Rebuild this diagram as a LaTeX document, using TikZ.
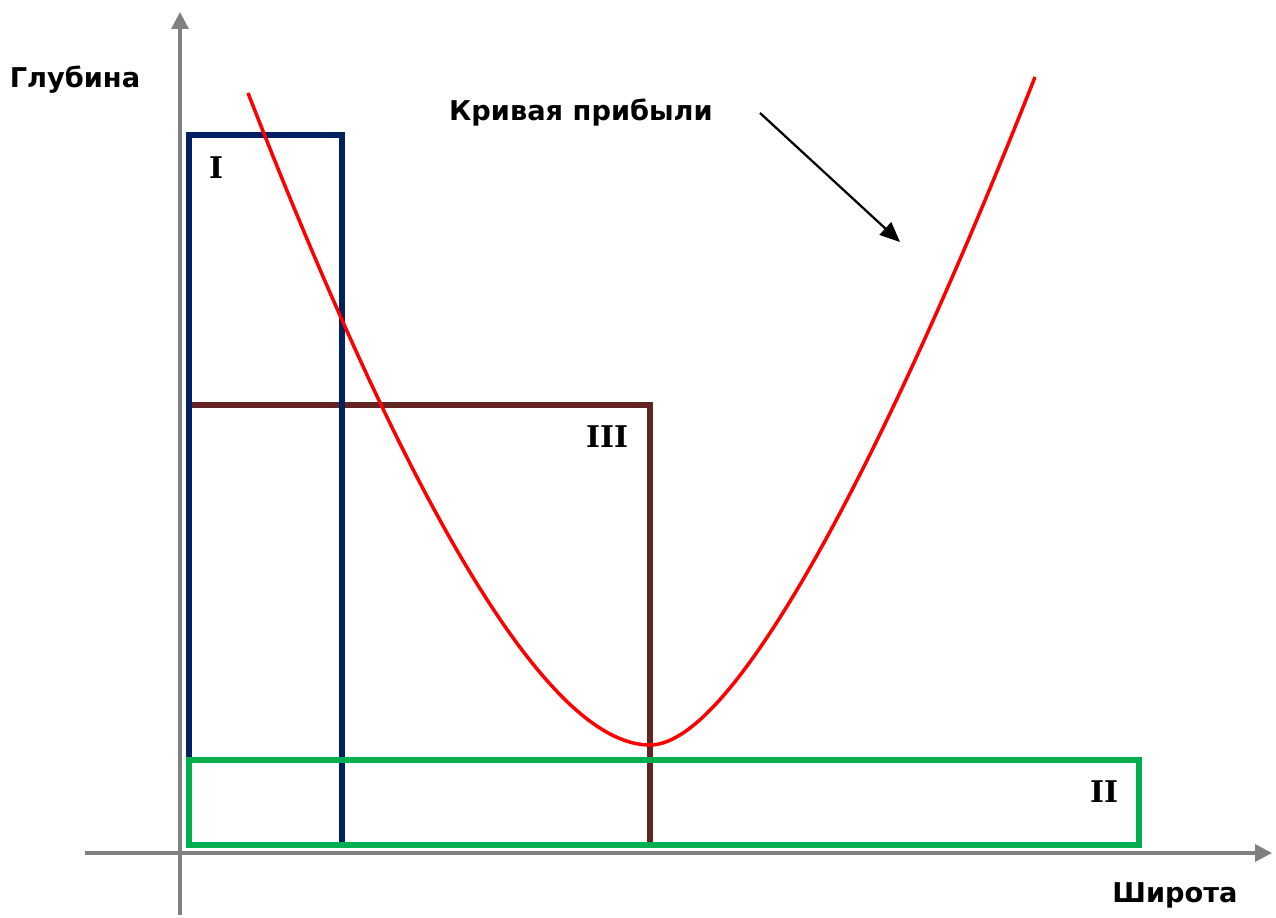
\documentclass[tikz,border=0pt]{standalone}
\usepackage{fontspec}
\setmainfont{DejaVu Sans}
\newfontfamily\numfont{DejaVu Serif}
\usetikzlibrary{arrows.meta,positioning}
\definecolor{zonenavy}{RGB}{0,32,96}
\definecolor{zonebrown}{RGB}{99,37,35}
\definecolor{zonegreen}{RGB}{0,176,80}
\definecolor{axisgray}{RGB}{128,128,128}

\begin{document}
\begin{tikzpicture}[x=0.2mm, y=-0.2mm,
    axis/.style={draw=axisgray, line width=0.7mm, -{Triangle[length=3.4mm, width=3.4mm]}},
    zone/.style={line width=1.05mm},
    title/.style={font=\fontsize{15.5}{18}\selectfont\bfseries, inner sep=0pt},
    roman/.style={font=\numfont\fontsize{17}{20}\selectfont\bfseries, inner sep=0pt}
  ]
  \useasboundingbox (0,0) rectangle (1276,918);

  % axes
  \coordinate (ybot) at (180,915);
  \coordinate (ytop) at (180,12);
  \coordinate (xleft) at (85,853);
  \coordinate (xright) at (1272,853);
  \draw[axis] (ybot) -- (ytop);
  \draw[axis] (xleft) -- (xright);
  \node[title] (lblY) at (75,80) {Глубина};
  \node[title] (lblX) at (1175,895) {Широта};

  % zones
  \draw[zone, draw=zonebrown] (189,405) rectangle (650,845);
  \draw[zone, draw=zonenavy] (189,135) rectangle (342,845);
  \draw[zone, draw=zonegreen, line width=1.25mm] (189,760) rectangle (1139,845);
  \node[roman] (lblI) at (216,168) {I};
  \node[roman] (lblIII) at (607,437) {III};
  \node[roman] (lblII) at (1104,792) {II};

  % profit curve
  \draw[red, line width=0.7mm] (248,93) .. controls (430,560) and (560,745) .. (650,745)
    .. controls (740,745) and (900,420) .. (1035,77);
  \node[title] (lblCurve) at (581,113) {Кривая прибыли};
  \coordinate (tail) at (760,113);
  \coordinate (tip) at (900,242);
  \draw[line width=0.45mm, -{Triangle[length=4mm, width=3.4mm]}] (tail) -- (tip);
\end{tikzpicture}
\end{document}
